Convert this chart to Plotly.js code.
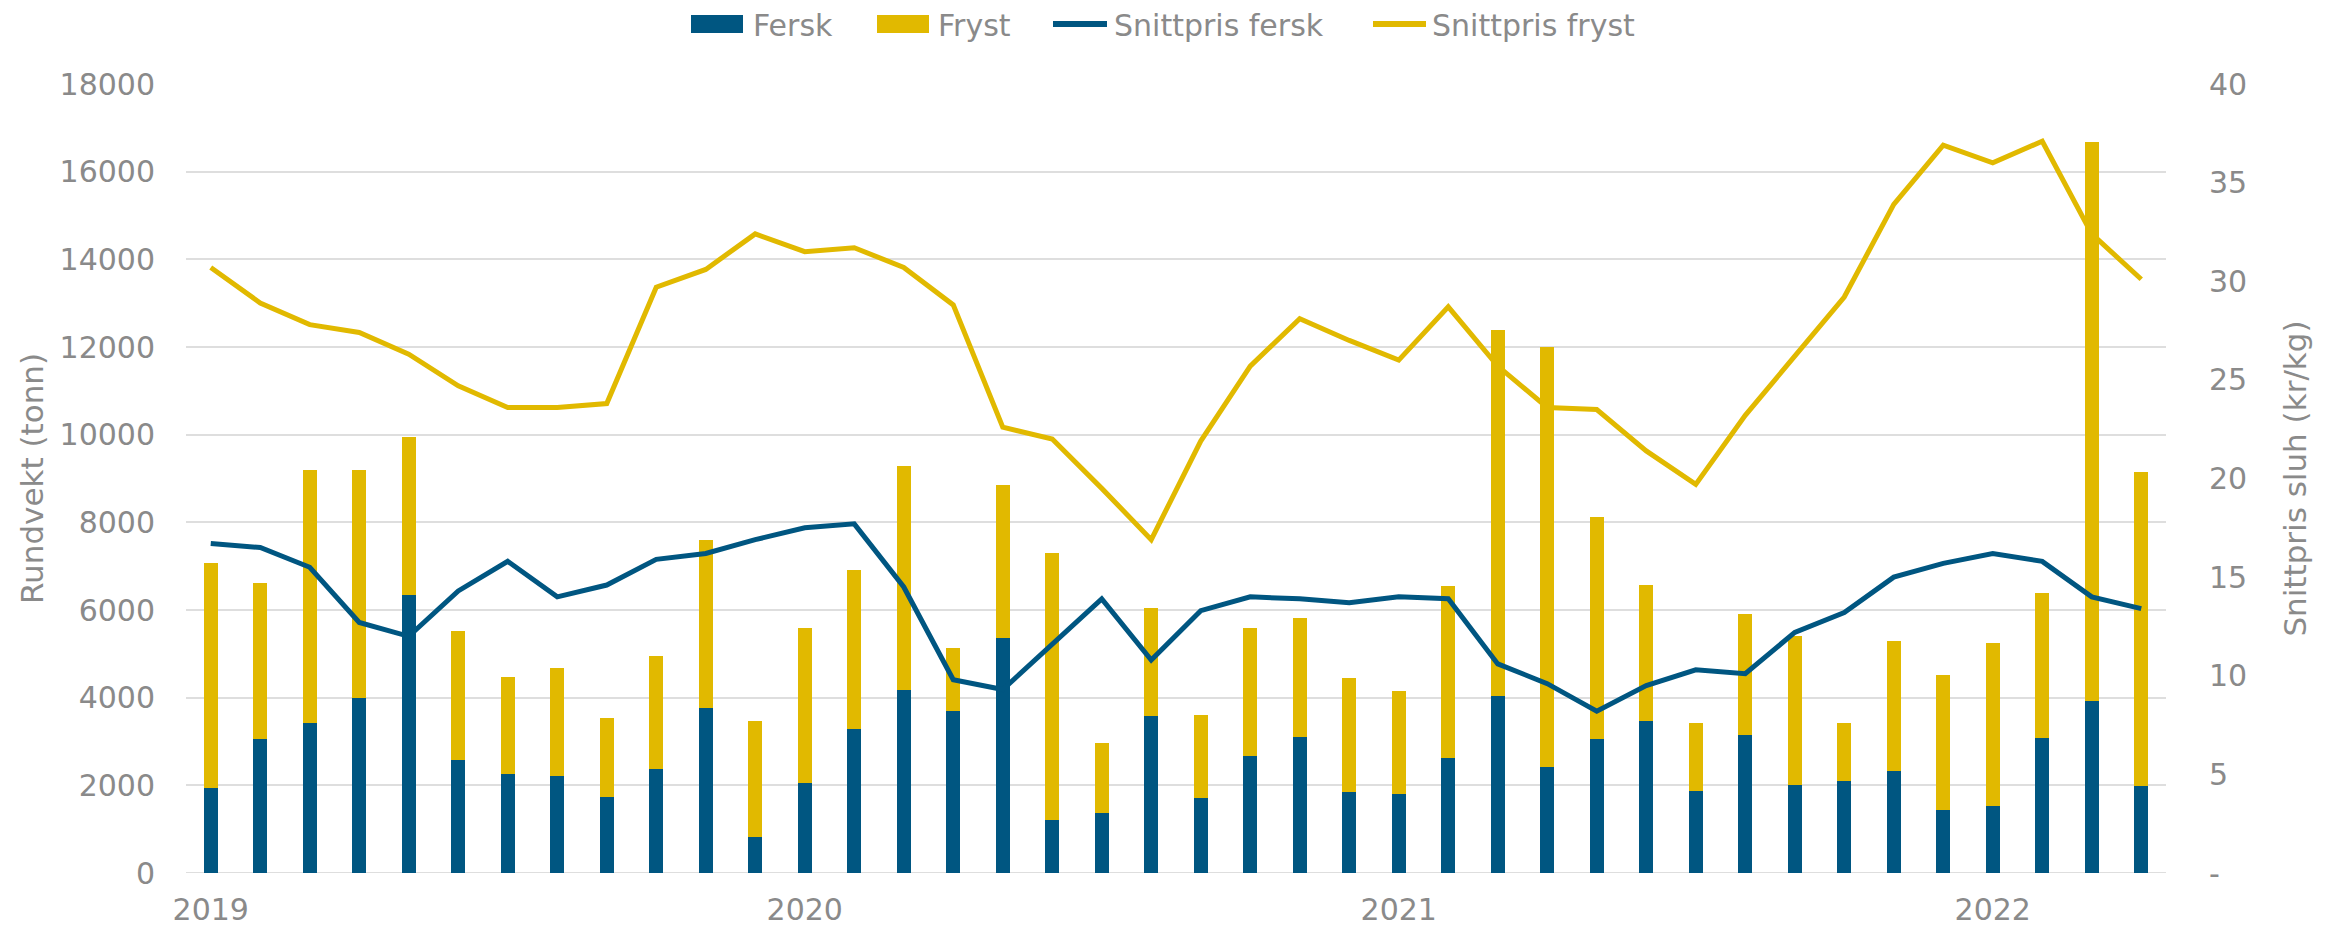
<!DOCTYPE html>
<html>
<head>
<meta charset="utf-8">
<script src="https://cdn.plot.ly/plotly-3.0.1.min.js"></script>
<style>html,body{margin:0;padding:0;background:#fff;}#chart{width:2341px;height:931px;}</style>
</head>
<body>
<div id="chart"></div>
<script>
// Months Jan 2019 .. Apr 2022
const months = [
  '2019-01','2019-02','2019-03','2019-04','2019-05','2019-06','2019-07','2019-08','2019-09','2019-10','2019-11','2019-12',
  '2020-01','2020-02','2020-03','2020-04','2020-05','2020-06','2020-07','2020-08','2020-09','2020-10','2020-11','2020-12',
  '2021-01','2021-02','2021-03','2021-04','2021-05','2021-06','2021-07','2021-08','2021-09','2021-10','2021-11','2021-12',
  '2022-01','2022-02','2022-03','2022-04'
];
// Rundvekt (tonn), fresh part
const fersk = [
  1950,3060,3420,3990,6350,2580,2270,2220,1730,2380,3770,820,
  2060,3290,4180,3700,5370,1220,1380,3580,1720,2670,3100,1840,
  1800,2620,4030,2420,3050,3460,1860,3150,2000,2110,2330,1430,
  1520,3080,3920,1990
];
// Totals (fersk + fryst)
const total = [
  7080,6620,9190,9200,9940,5520,4470,4680,3540,4960,7600,3460,
  5580,6920,9280,5130,8860,7300,2960,6040,3610,5600,5810,4460,
  4150,6540,12390,12000,8130,6580,3430,5920,5400,3430,5300,4510,
  5250,6390,16670,9150
];
// Frozen part = total - fresh
const fryst = total.map((t, i) => t - fersk[i]);
// Snittpris sluh (kr/kg)
const prisFersk = [
  16.7,16.5,15.5,12.7,12.0,14.3,15.8,14.0,14.6,15.9,16.2,16.9,
  17.5,17.7,14.5,9.8,9.3,11.6,13.9,10.8,13.3,14.0,13.9,13.7,
  14.0,13.9,10.6,9.6,8.2,9.5,10.3,10.1,12.2,13.2,15.0,15.7,
  16.2,15.8,14.0,13.4
];
const prisFryst = [
  30.7,28.9,27.8,27.4,26.3,24.7,23.6,23.6,23.8,29.7,30.6,32.4,
  31.5,31.7,30.7,28.8,22.6,22.0,19.5,16.9,21.9,25.7,28.1,27.0,
  26.0,28.7,25.7,23.6,23.5,21.4,19.7,23.2,26.2,29.2,33.9,36.9,
  36.0,37.1,32.4,30.1
];
const yearTicks = ['2019-01','2020-01','2021-01','2022-01'];
const yearLabels = ['2019','2020','2021','2022'];
const leftTicks = [0,2000,4000,6000,8000,10000,12000,14000,16000,18000];
const rightTicks = [0,5,10,15,20,25,30,35,40];
const rightLabels = ['-','5','10','15','20','25','30','35','40'];
const seriesNames = ['Fersk','Fryst','Snittpris fersk','Snittpris fryst'];

const BLUE = '#005681';
const YELLOW = '#E1B900';
const TXT = '#8a8a8a';
const FONT = 'DejaVu Sans, sans-serif';

const traces = [
  {type:'bar', name:seriesNames[0], x:months, y:fersk, marker:{color:BLUE}, width:0.28, showlegend:false},
  {type:'bar', name:seriesNames[1], x:months, y:fryst, marker:{color:YELLOW}, width:0.28, showlegend:false},
  {type:'scatter', mode:'lines', name:seriesNames[2], x:months, y:prisFersk, yaxis:'y2', line:{color:BLUE, width:5}, showlegend:false},
  {type:'scatter', mode:'lines', name:seriesNames[3], x:months, y:prisFryst, yaxis:'y2', line:{color:YELLOW, width:5}, showlegend:false}
];

// Plot area in pixels (for placing the hand-made legend above it)
const M = {l:186, r:175, t:84, b:58};
const W = 2341, H = 931;
const pw = W - M.l - M.r, ph = H - M.t - M.b;
const px = v => (v - M.l) / pw;
const py = v => (H - M.b - v) / ph;

// legend layout (pixels): symbol left, symbol right, text left
const legendItems = [
  {kind:'rect', color:BLUE,   x0:691,  x1:743,  tx:751},
  {kind:'rect', color:YELLOW, x0:877,  x1:929,  tx:936},
  {kind:'line', color:BLUE,   x0:1053, x1:1107, tx:1112},
  {kind:'line', color:YELLOW, x0:1373, x1:1426, tx:1430}
];
const legendY = 24;
const shapes = [{type:'line', xref:'paper', yref:'y', x0:0, x1:1, y0:0, y1:0, line:{color:'#dedede', width:2}, layer:'below'}];
const annotations = [];
legendItems.forEach((it, i) => {
  if (it.kind === 'rect') {
    shapes.push({type:'rect', xref:'paper', yref:'paper', x0:px(it.x0), x1:px(it.x1), y0:py(legendY+9), y1:py(legendY-9),
                 fillcolor:it.color, line:{width:0}});
  } else {
    shapes.push({type:'line', xref:'paper', yref:'paper', x0:px(it.x0), x1:px(it.x1), y0:py(legendY), y1:py(legendY),
                 line:{color:it.color, width:6}});
  }
  annotations.push({xref:'paper', yref:'paper', x:px(it.tx), y:py(legendY+1), xanchor:'left', yanchor:'middle',
                    text:seriesNames[i], showarrow:false, font:{family:FONT, size:30, color:TXT}});
});

const layout = {
  width:W, height:H,
  margin:M,
  paper_bgcolor:'#fff', plot_bgcolor:'#fff',
  font:{family:FONT, size:29, color:TXT},
  barmode:'stack',
  showlegend:false,
  xaxis:{type:'category', categoryorder:'array', categoryarray:months,
         tickmode:'array', tickvals:yearTicks, ticktext:yearLabels,
         showgrid:false, ticks:'', showline:false, zeroline:false,
         ticklabelstandoff:16, tickfont:{size:30, color:TXT}},
  yaxis:{range:[0,18000], tickmode:'array', tickvals:leftTicks, tickformat:'d', showgrid:true, gridcolor:'#dedede', gridwidth:2,
         zeroline:false, showline:false, ticks:'', ticklabelstandoff:30,
         title:{text:'Rundvekt (tonn)', font:{size:31, color:TXT}, standoff:6},
         tickfont:{size:30, color:TXT}},
  yaxis2:{range:[0,40], overlaying:'y', side:'right', tickmode:'array', tickvals:rightTicks, ticktext:rightLabels,
          showgrid:false, zeroline:false, showline:false, ticks:'', ticklabelstandoff:42,
          title:{text:'Snittpris sluh (kr/kg)', font:{size:31, color:TXT}, standoff:38},
          tickfont:{size:30, color:TXT}},
  shapes:shapes,
  annotations:annotations
};

Plotly.newPlot('chart', traces, layout, {displayModeBar:false, staticPlot:true});
</script>
</body>
</html>
